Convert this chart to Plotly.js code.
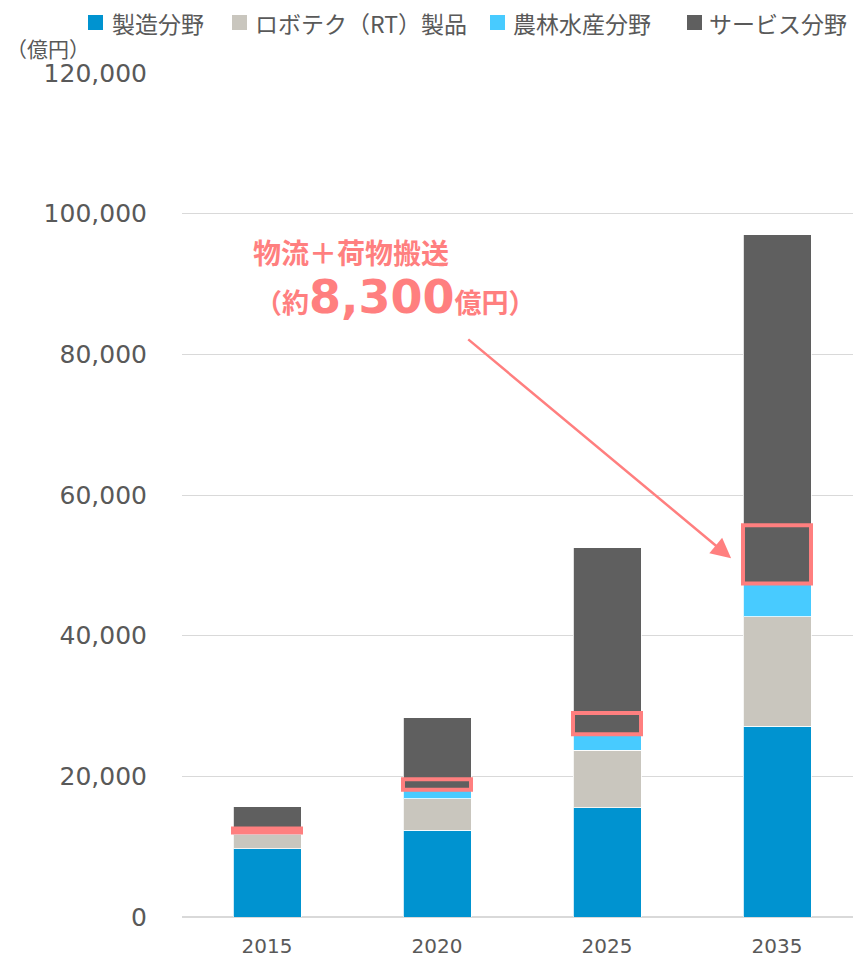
<!DOCTYPE html>
<html>
<head>
<meta charset="utf-8">
<script src="https://cdn.plot.ly/plotly-3.0.1.min.js"></script>
<style>html,body{margin:0;padding:0;background:#fff;}#chart{width:853px;height:959px;}</style>
</head>
<body>
<div id="chart"></div>
<script>
// ---- data ----
const years = ['2015', '2020', '2025', '2035'];
const seriesNames = ['製造分野', 'ロボテク（RT）製品', '農林水産分野', 'サービス分野'];
const manufacturing = [9700, 12300, 15500, 27100];
const rtProducts = [2000, 4500, 8200, 15600];
const agriculture = [300, 1300, 2300, 4700];
const services = [3700, 10200, 26500, 49600];
// logistics + cargo transport portion (inside services, bottom part)
const logistics = [600, 1500, 3000, 8300];
const yTickVals = [0, 20000, 40000, 60000, 80000, 100000, 120000];
const yTickText = ['0', '20,000', '40,000', '60,000', '80,000', '100,000', '120,000'];
const unitLabel = '（億円）';
const calloutTitle = '物流＋荷物搬送';
const calloutValue = '8,300';

// ---- styles ----
const colors = ['#0093D0', '#C9C6BE', '#48CBFF', '#5F5F5F'];
const accent = '#FF7F7F';
const textColor = '#595959';
const W = 853, H = 959;
const M = {l: 182, r: 0, t: 73, b: 42};
const pw = W - M.l - M.r, ph = H - M.t - M.b;
const px = x => (x - M.l) / pw;
const py = y => (H - M.b - y) / ph;

const seriesValues = [manufacturing, rtProducts, agriculture, services];
const traces = seriesValues.map((vals, i) => ({
  type: 'bar',
  name: seriesNames[i],
  x: years,
  y: vals,
  marker: {color: colors[i], line: {color: 'rgba(255,255,255,0.8)', width: 1}},
  hoverinfo: 'x+y+name',
  showlegend: false
}));

const shapes = [];
const annotations = [];

// highlight boxes for logistics portion
years.forEach((yr, i) => {
  const base = manufacturing[i] + rtProducts[i] + agriculture[i];
  shapes.push({
    type: 'rect', xref: 'x', yref: 'y',
    x0: i - 0.2, x1: i + 0.2,
    y0: base, y1: base + logistics[i],
    line: {color: accent, width: 4},
    fillcolor: 'rgba(0,0,0,0)'
  });
});

// manual legend
const legendSquareX = [88, 232, 490, 687];
const legendTextX = [110, 253, 511, 707];
seriesNames.forEach((name, i) => {
  shapes.push({
    type: 'rect', xref: 'paper', yref: 'paper',
    x0: px(legendSquareX[i]), x1: px(legendSquareX[i] + 15),
    y0: py(30), y1: py(15),
    line: {width: 0}, fillcolor: colors[i]
  });
  annotations.push({
    xref: 'paper', yref: 'paper',
    x: px(legendTextX[i]), y: py(23),
    xanchor: 'left', yanchor: 'middle',
    text: name, showarrow: false,
    font: {family: 'Noto Sans CJK JP', size: 23, color: textColor}
  });
});

// unit label
annotations.push({
  xref: 'paper', yref: 'paper',
  x: px(4), y: py(48), xanchor: 'left', yanchor: 'middle',
  text: unitLabel, showarrow: false,
  font: {family: 'Noto Sans CJK JP', size: 21, color: textColor}
});

// callout text
annotations.push({
  xref: 'paper', yref: 'paper',
  x: px(351), y: py(252), xanchor: 'center', yanchor: 'middle',
  text: '<b>' + calloutTitle + '</b>', showarrow: false,
  font: {family: 'Noto Sans CJK JP', size: 28, color: accent}
});
annotations.push({
  xref: 'paper', yref: 'paper',
  x: px(395), y: py(297), xanchor: 'center', yanchor: 'middle',
  text: '<b>（約<span style="font-size:46px;font-family:DejaVu Sans">' + calloutValue + '</span>億円）</b>',
  showarrow: false,
  font: {family: 'Noto Sans CJK JP', size: 27, color: accent}
});

// arrow
annotations.push({
  xref: 'x', yref: 'y', axref: 'x', ayref: 'y',
  x: 2.73, y: 51000, ax: 1.175, ay: 82300,
  text: '', showarrow: true,
  arrowhead: 2, arrowsize: 1.6, arrowwidth: 2.5, arrowcolor: accent, standoff: 0
});

const layout = {
  width: W, height: H,
  margin: M,
  paper_bgcolor: '#ffffff', plot_bgcolor: '#ffffff',
  barmode: 'stack', bargap: 0.6,
  showlegend: false,
  font: {family: 'DejaVu Sans', color: textColor},
  xaxis: {
    type: 'category',
    range: [-0.5, -0.5 + pw / 170],
    showgrid: false, zeroline: false, showline: false,
    ticks: '', ticklabelstandoff: 15,
    tickfont: {family: 'DejaVu Sans', size: 20, color: textColor},
    fixedrange: true
  },
  yaxis: {
    range: [0, 120000],
    tickvals: yTickVals, ticktext: yTickText,
    showgrid: true, gridcolor: '#D9D9D9', gridwidth: 1,
    zeroline: true, zerolinecolor: '#D9D9D9', zerolinewidth: 2,
    showline: false, ticks: '', ticklabelstandoff: 34,
    tickfont: {family: 'DejaVu Sans', size: 25, color: textColor},
    fixedrange: true
  },
  shapes: shapes,
  annotations: annotations
};

Plotly.newPlot('chart', traces, layout, {displayModeBar: false, staticPlot: true});
</script>
</body>
</html>
